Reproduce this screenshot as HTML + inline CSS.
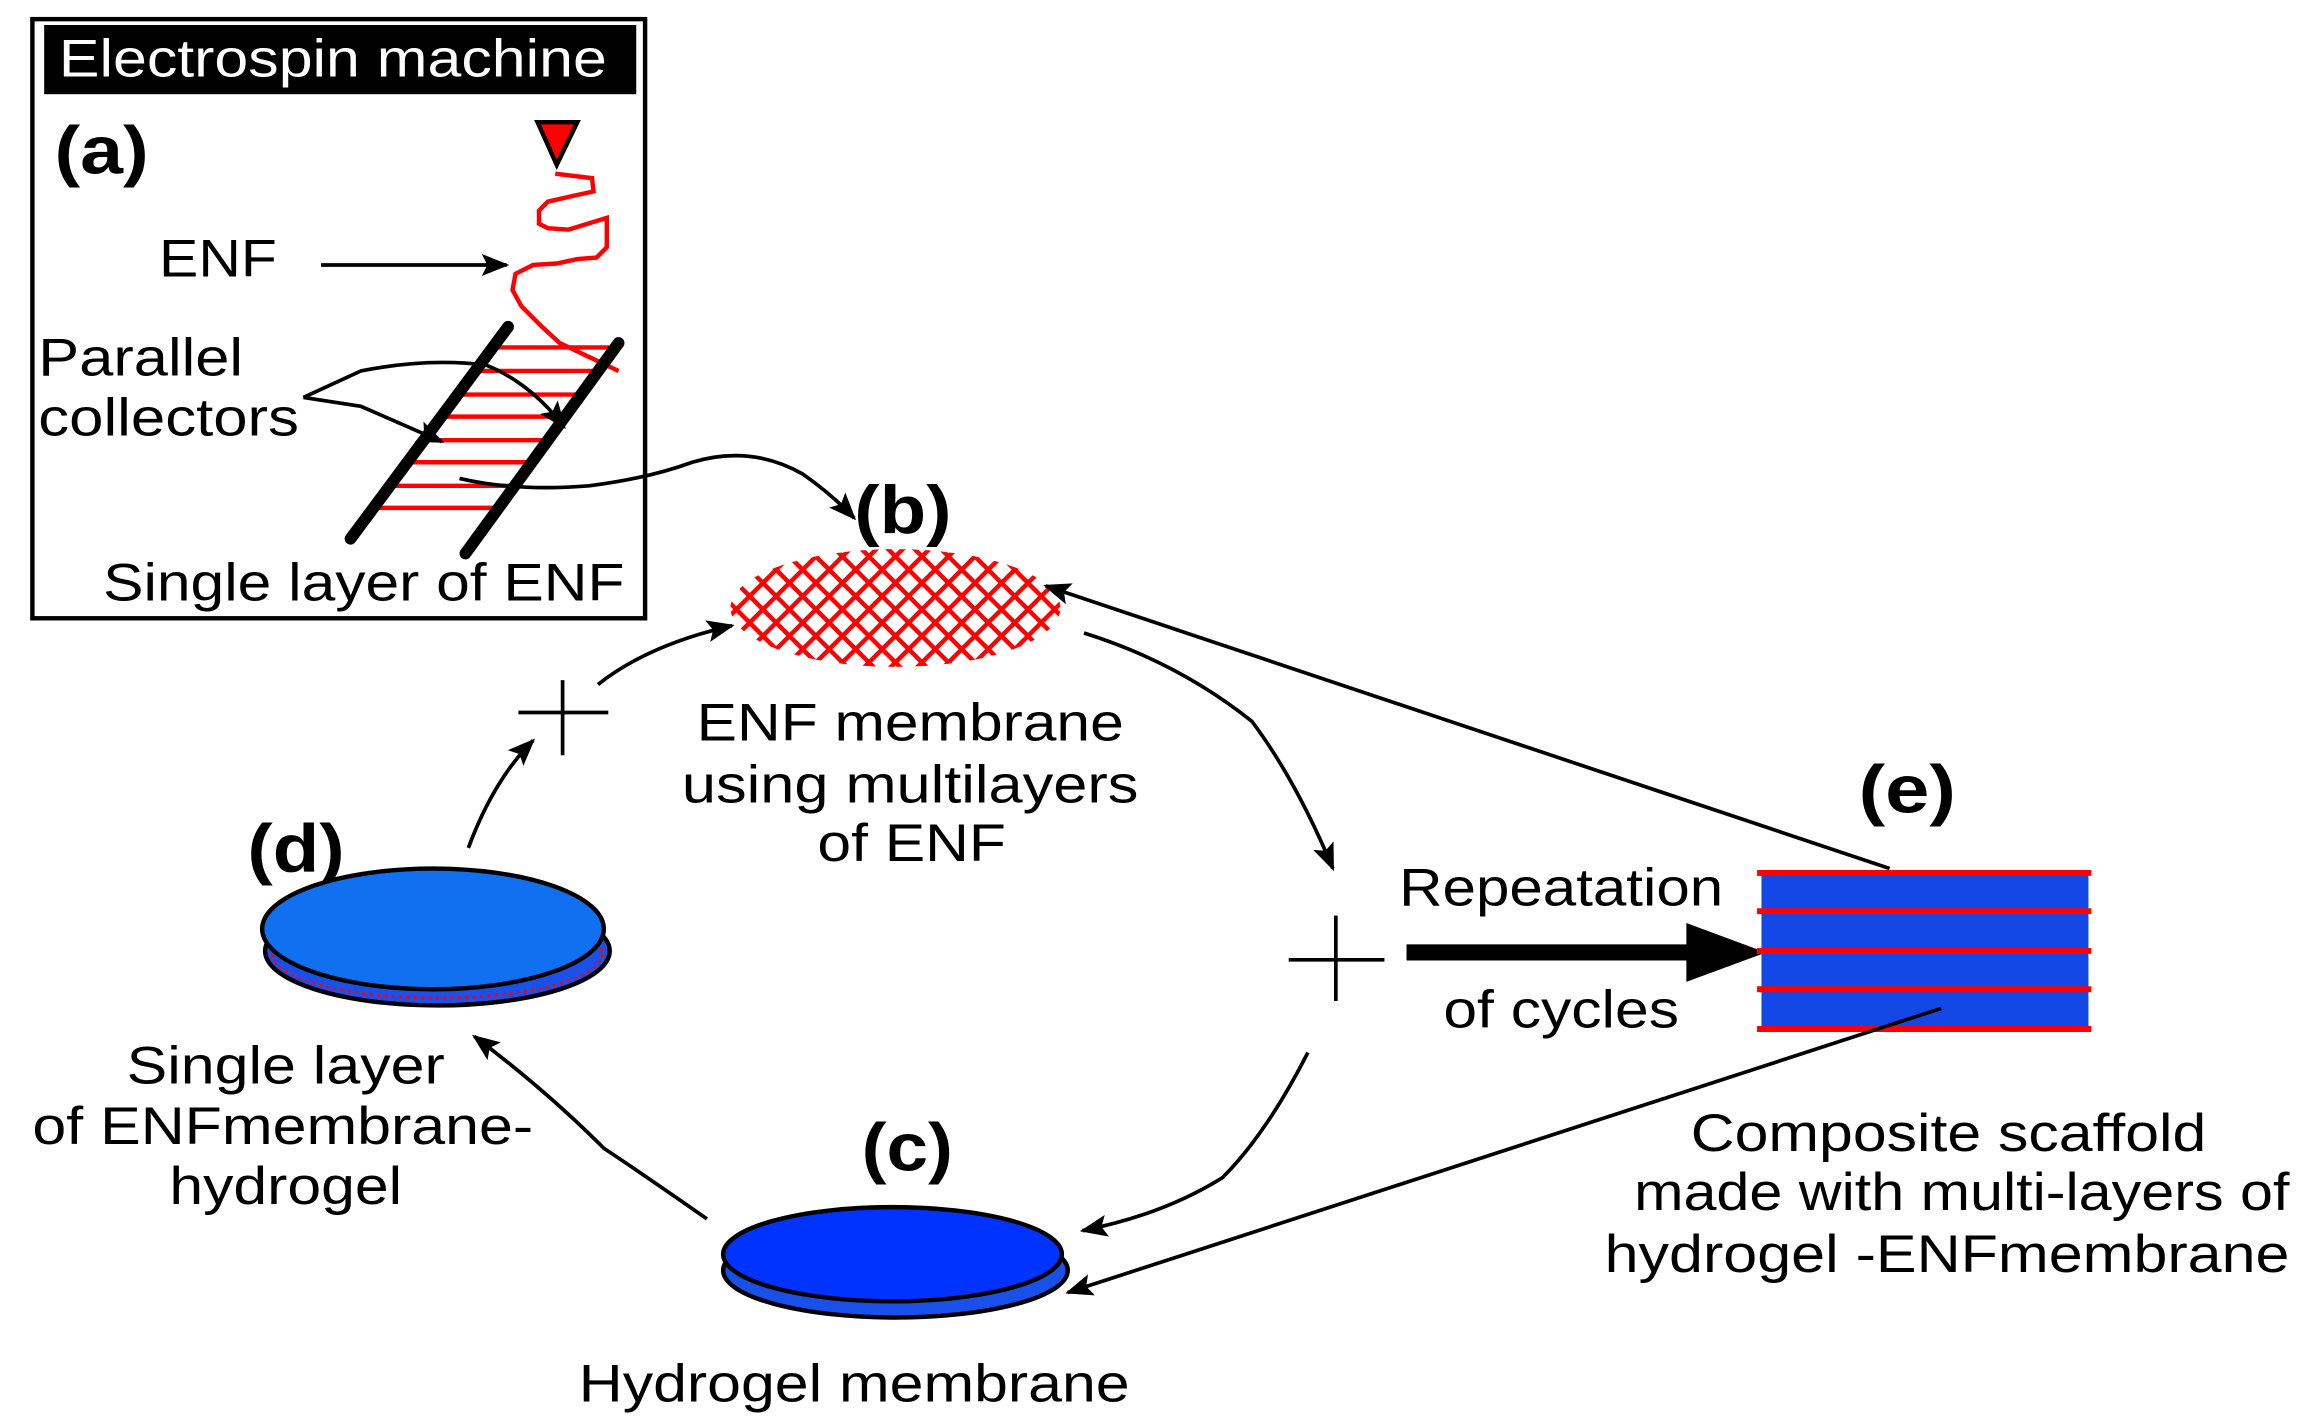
<!DOCTYPE html>
<html><head><meta charset="utf-8"><style>
html,body{margin:0;padding:0;background:#fff;}
svg{display:block;}
text{font-family:"Liberation Sans",Arial,sans-serif;fill:#000;}
</style></head><body>
<svg width="2302" height="1425" viewBox="0 0 1563 968" preserveAspectRatio="none" xmlns="http://www.w3.org/2000/svg">
<defs>
<marker id="a2" viewBox="0 0 10 8" markerWidth="20" markerHeight="15" refX="9" refY="4" orient="auto" markerUnits="userSpaceOnUse">
<path d="M0,0 L10,4 L0,8 L2,4 Z" fill="#000"/>
</marker>
<clipPath id="mc"><ellipse cx="608" cy="413" rx="112" ry="40"/></clipPath>
</defs>

<!-- frame (a) -->
<rect x="22" y="13" width="416" height="407" fill="none" stroke="#000" stroke-width="3"/>
<rect x="30" y="17" width="402" height="47" fill="#000"/>
<text x="40" y="52" font-size="36" textLength="372" lengthAdjust="spacingAndGlyphs" style="fill:#fff">Electrospin machine</text>
<text x="37" y="118" font-size="46" font-weight="bold" textLength="64" lengthAdjust="spacingAndGlyphs">(a)</text>
<polygon points="365,83 392,83 378,112" fill="#f00" stroke="#000" stroke-width="3"/>
<polyline points="377,118 402,121 403,130 385,134 372,137 366,143 366,152 372,155 386,156 412,148 412,168 405,175 392,176 378,179 362,180 350,186 348,197 354,208 368,222 380,233 420,252" fill="none" stroke="#f00" stroke-width="3"/>
<text x="108" y="188" font-size="36" textLength="80" lengthAdjust="spacingAndGlyphs">ENF</text>
<line x1="218" y1="180" x2="344" y2="180" stroke="#000" stroke-width="2.5" marker-end="url(#a2)"/>
<text x="26" y="255" font-size="36" textLength="139" lengthAdjust="spacingAndGlyphs">Parallel</text>
<text x="26" y="296" font-size="36" textLength="177" lengthAdjust="spacingAndGlyphs">collectors</text>
<g stroke="#f00" stroke-width="3">
<line x1="335" y1="236" x2="417" y2="236"/>
<line x1="323" y1="252" x2="406" y2="252"/>
<line x1="311" y1="268" x2="394" y2="268"/>
<line x1="300" y1="283" x2="383" y2="283"/>
<line x1="288" y1="299" x2="372" y2="299"/>
<line x1="277" y1="314" x2="360" y2="314"/>
<line x1="265" y1="330" x2="349" y2="330"/>
<line x1="254" y1="345" x2="338" y2="345"/>
</g>
<line x1="238" y1="366" x2="345" y2="222" stroke="#000" stroke-width="8" stroke-linecap="round"/>
<line x1="316" y1="376" x2="420" y2="233" stroke="#000" stroke-width="8" stroke-linecap="round"/>
<path d="M206,270 L245,252 Q290,243 330,248 Q360,260 383,290" fill="none" stroke="#000" stroke-width="2.5" marker-end="url(#a2)"/>
<path d="M206,270 L245,276 L300,300" fill="none" stroke="#000" stroke-width="2.5" marker-end="url(#a2)"/>
<text x="70" y="408" font-size="36" textLength="354" lengthAdjust="spacingAndGlyphs">Single layer of ENF</text>
<path d="M312,325 Q350,334 400,330 Q440,325 470,314 Q510,302 545,322 Q565,336 580,352" fill="none" stroke="#000" stroke-width="2.5" marker-end="url(#a2)"/>

<!-- (b) -->
<text x="580" y="362" font-size="46" font-weight="bold" textLength="66" lengthAdjust="spacingAndGlyphs">(b)</text>
<g clip-path="url(#mc)" stroke="#f00" stroke-width="3">
<path d="M380,330 l200,200 M398,330 l200,200 M416,330 l200,200 M434,330 l200,200 M452,330 l200,200 M470,330 l200,200 M488,330 l200,200 M506,330 l200,200 M524,330 l200,200 M542,330 l200,200 M560,330 l200,200 M578,330 l200,200 M596,330 l200,200 M614,330 l200,200 M632,330 l200,200 M650,330 l200,200 M668,330 l200,200 M686,330 l200,200"/>
<path d="M836,330 l-200,200 M818,330 l-200,200 M800,330 l-200,200 M782,330 l-200,200 M764,330 l-200,200 M746,330 l-200,200 M728,330 l-200,200 M710,330 l-200,200 M692,330 l-200,200 M674,330 l-200,200 M656,330 l-200,200 M638,330 l-200,200 M620,330 l-200,200 M602,330 l-200,200 M584,330 l-200,200 M566,330 l-200,200 M548,330 l-200,200 M530,330 l-200,200"/>
</g>
<text x="618" y="503" font-size="36" text-anchor="middle" textLength="290" lengthAdjust="spacingAndGlyphs">ENF membrane</text>
<text x="618" y="545" font-size="36" text-anchor="middle" textLength="310" lengthAdjust="spacingAndGlyphs">using multilayers</text>
<text x="619" y="585" font-size="36" text-anchor="middle" textLength="128" lengthAdjust="spacingAndGlyphs">of ENF</text>

<!-- arrows around cycle -->
<path d="M736,430 Q800,450 850,490 Q880,530 905,590" fill="none" stroke="#000" stroke-width="2.5" marker-end="url(#a2)"/>
<line x1="875" y1="652" x2="940" y2="652" stroke="#000" stroke-width="2.5"/>
<line x1="907" y1="622" x2="907" y2="680" stroke="#000" stroke-width="2.5"/>
<line x1="352" y1="484" x2="413" y2="484" stroke="#000" stroke-width="2.5"/>
<line x1="382" y1="462" x2="382" y2="513" stroke="#000" stroke-width="2.5"/>
<path d="M318,576 Q335,530 362,503" fill="none" stroke="#000" stroke-width="2.5" marker-end="url(#a2)"/>
<path d="M406,465 Q440,438 497,425" fill="none" stroke="#000" stroke-width="2.5" marker-end="url(#a2)"/>
<path d="M888,715 Q860,770 830,800 Q790,825 735,836" fill="none" stroke="#000" stroke-width="2.5" marker-end="url(#a2)"/>
<path d="M480,828 Q440,800 410,780 Q370,740 322,704" fill="none" stroke="#000" stroke-width="2.5" marker-end="url(#a2)"/>

<!-- big arrow -->
<line x1="955" y1="647" x2="1152" y2="647" stroke="#000" stroke-width="11"/>
<polygon points="1145,627 1199,647 1145,667" fill="#000"/>
<text x="950" y="615" font-size="36" textLength="220" lengthAdjust="spacingAndGlyphs">Repeatation</text>
<text x="980" y="698" font-size="36" textLength="160" lengthAdjust="spacingAndGlyphs">of cycles</text>

<!-- (e) -->
<text x="1262" y="552" font-size="46" font-weight="bold" textLength="66" lengthAdjust="spacingAndGlyphs">(e)</text>
<rect x="1196" y="593" width="222" height="106" fill="#1448e6"/>
<g stroke="#f00" stroke-width="4">
<line x1="1193" y1="593" x2="1420" y2="593"/>
<line x1="1193" y1="619" x2="1420" y2="619"/>
<line x1="1193" y1="646" x2="1420" y2="646"/>
<line x1="1193" y1="672" x2="1420" y2="672"/>
<line x1="1193" y1="699" x2="1420" y2="699"/>
</g>
<line x1="1283" y1="590" x2="710" y2="398" stroke="#000" stroke-width="2.5" marker-end="url(#a2)"/>
<line x1="1318" y1="685" x2="725" y2="878" stroke="#000" stroke-width="2.5" marker-end="url(#a2)"/>
<text x="1323" y="782" font-size="36" text-anchor="middle" textLength="350" lengthAdjust="spacingAndGlyphs">Composite scaffold</text>
<text x="1332" y="822" font-size="36" text-anchor="middle" textLength="445" lengthAdjust="spacingAndGlyphs">made with multi-layers of</text>
<text x="1322" y="864" font-size="36" text-anchor="middle" textLength="465" lengthAdjust="spacingAndGlyphs">hydrogel -ENFmembrane</text>

<!-- (c) -->
<text x="585" y="795" font-size="46" font-weight="bold" textLength="62" lengthAdjust="spacingAndGlyphs">(c)</text>
<ellipse cx="608" cy="863" rx="117" ry="32" fill="#1a50ea" stroke="#000" stroke-width="3"/>
<ellipse cx="606" cy="852" rx="115" ry="32" fill="#0033ff" stroke="#000" stroke-width="3"/>
<text x="393" y="952" font-size="36" textLength="374" lengthAdjust="spacingAndGlyphs">Hydrogel membrane</text>

<!-- (d) -->
<text x="168" y="592" font-size="46" font-weight="bold" textLength="66" lengthAdjust="spacingAndGlyphs">(d)</text>
<ellipse cx="297" cy="646" rx="117" ry="37" fill="#1a50ea" stroke="#000" stroke-width="3"/>
<ellipse cx="297" cy="648" rx="112" ry="30" fill="none" stroke="#f00" stroke-width="2" stroke-dasharray="2,3"/>
<ellipse cx="294" cy="631" rx="116" ry="41" fill="#1170f0" stroke="#000" stroke-width="3"/>
<text x="194" y="736" font-size="36" text-anchor="middle" textLength="216" lengthAdjust="spacingAndGlyphs">Single layer</text>
<text x="192" y="777" font-size="36" text-anchor="middle" textLength="340" lengthAdjust="spacingAndGlyphs">of ENFmembrane-</text>
<text x="194" y="818" font-size="36" text-anchor="middle" textLength="158" lengthAdjust="spacingAndGlyphs">hydrogel</text>
</svg>
</body></html>
